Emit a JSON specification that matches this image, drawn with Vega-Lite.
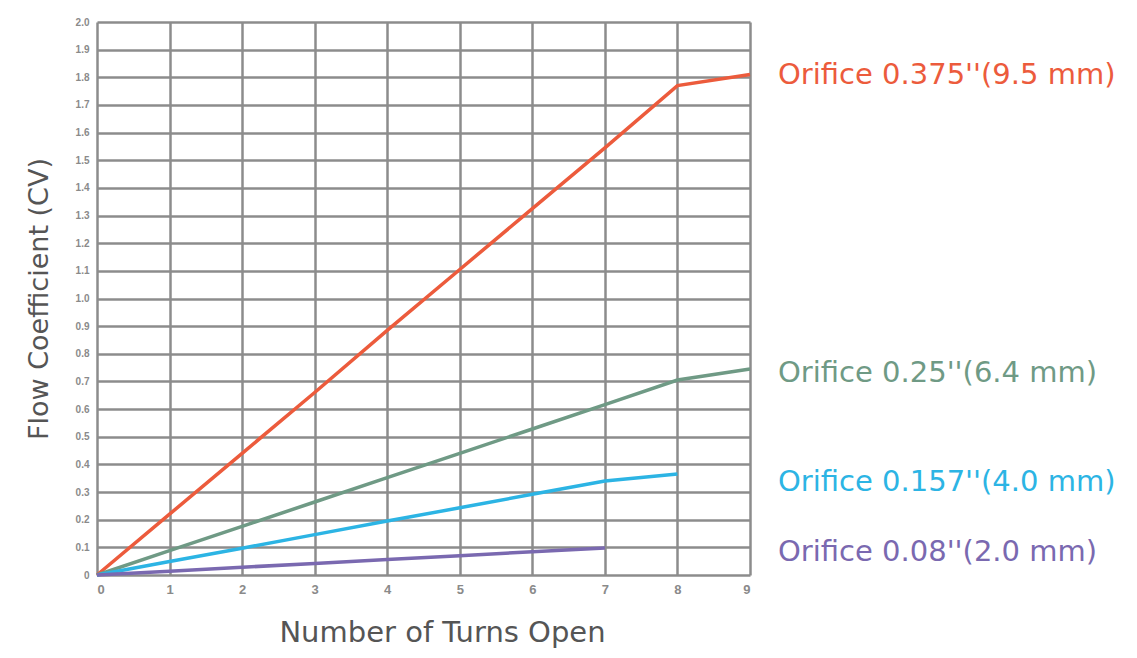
{
  "$schema": "https://vega.github.io/schema/vega-lite/v6.json",
  "autosize": {"type": "none"},
  "width": 653,
  "height": 553,
  "padding": {"left": 97, "top": 22, "right": 387, "bottom": 83},
  "background": "white",
  "config": {
    "view": {"stroke": null},
    "font": "DejaVu Sans"
  },
  "datasets": {
    "lines": [
      {"series": "Orifice 0.375''(9.5 mm)", "turns": 0, "cv": 0},
      {"series": "Orifice 0.375''(9.5 mm)", "turns": 1, "cv": 0.22},
      {"series": "Orifice 0.375''(9.5 mm)", "turns": 2, "cv": 0.44},
      {"series": "Orifice 0.375''(9.5 mm)", "turns": 3, "cv": 0.66},
      {"series": "Orifice 0.375''(9.5 mm)", "turns": 4, "cv": 0.885},
      {"series": "Orifice 0.375''(9.5 mm)", "turns": 5, "cv": 1.105},
      {"series": "Orifice 0.375''(9.5 mm)", "turns": 6, "cv": 1.325},
      {"series": "Orifice 0.375''(9.5 mm)", "turns": 7, "cv": 1.545},
      {"series": "Orifice 0.375''(9.5 mm)", "turns": 8, "cv": 1.77},
      {"series": "Orifice 0.375''(9.5 mm)", "turns": 9, "cv": 1.81},
      {"series": "Orifice 0.25''(6.4 mm)", "turns": 0, "cv": 0},
      {"series": "Orifice 0.25''(6.4 mm)", "turns": 1, "cv": 0.088},
      {"series": "Orifice 0.25''(6.4 mm)", "turns": 2, "cv": 0.176},
      {"series": "Orifice 0.25''(6.4 mm)", "turns": 3, "cv": 0.264},
      {"series": "Orifice 0.25''(6.4 mm)", "turns": 4, "cv": 0.352},
      {"series": "Orifice 0.25''(6.4 mm)", "turns": 5, "cv": 0.44},
      {"series": "Orifice 0.25''(6.4 mm)", "turns": 6, "cv": 0.528},
      {"series": "Orifice 0.25''(6.4 mm)", "turns": 7, "cv": 0.616},
      {"series": "Orifice 0.25''(6.4 mm)", "turns": 8, "cv": 0.705},
      {"series": "Orifice 0.25''(6.4 mm)", "turns": 9, "cv": 0.745},
      {"series": "Orifice 0.157''(4.0 mm)", "turns": 0, "cv": 0},
      {"series": "Orifice 0.157''(4.0 mm)", "turns": 1, "cv": 0.049},
      {"series": "Orifice 0.157''(4.0 mm)", "turns": 2, "cv": 0.097},
      {"series": "Orifice 0.157''(4.0 mm)", "turns": 3, "cv": 0.146},
      {"series": "Orifice 0.157''(4.0 mm)", "turns": 4, "cv": 0.195},
      {"series": "Orifice 0.157''(4.0 mm)", "turns": 5, "cv": 0.243},
      {"series": "Orifice 0.157''(4.0 mm)", "turns": 6, "cv": 0.292},
      {"series": "Orifice 0.157''(4.0 mm)", "turns": 7, "cv": 0.34},
      {"series": "Orifice 0.157''(4.0 mm)", "turns": 8, "cv": 0.365},
      {"series": "Orifice 0.08''(2.0 mm)", "turns": 0, "cv": 0},
      {"series": "Orifice 0.08''(2.0 mm)", "turns": 1, "cv": 0.014},
      {"series": "Orifice 0.08''(2.0 mm)", "turns": 2, "cv": 0.028},
      {"series": "Orifice 0.08''(2.0 mm)", "turns": 3, "cv": 0.042},
      {"series": "Orifice 0.08''(2.0 mm)", "turns": 4, "cv": 0.056},
      {"series": "Orifice 0.08''(2.0 mm)", "turns": 5, "cv": 0.07},
      {"series": "Orifice 0.08''(2.0 mm)", "turns": 6, "cv": 0.084},
      {"series": "Orifice 0.08''(2.0 mm)", "turns": 7, "cv": 0.098}
    ],
    "labels": [
      {"series": "Orifice 0.375''(9.5 mm)", "turns": 9, "cv": 1.81},
      {"series": "Orifice 0.25''(6.4 mm)", "turns": 9, "cv": 0.73},
      {"series": "Orifice 0.157''(4.0 mm)", "turns": 9, "cv": 0.335},
      {"series": "Orifice 0.08''(2.0 mm)", "turns": 9, "cv": 0.083}
    ]
  },
  "encoding": {
    "x": {
      "field": "turns", "type": "quantitative",
      "scale": {"domain": [0, 9], "nice": false, "zero": true},
      "axis": {
        "title": "Number of Turns Open",
        "titleFont": "DejaVu Sans", "titleFontSize": 29, "titleFontWeight": "normal",
        "titleColor": "#555555", "titlePadding": 22, "titleX": 345, "titleAlign": "center",
        "values": [0, 1, 2, 3, 4, 5, 6, 7, 8, 9], "format": "d",
        "labelFont": "Liberation Sans", "labelFontWeight": "bold",
        "labelFontSize": 13, "labelColor": "#8a8a8a", "labelPadding": 8,
        "labelOverlap": false,
        "ticks": false, "domain": false,
        "grid": true, "gridColor": "#8c8c8c", "gridWidth": 2.5, "gridOpacity": 1
      }
    },
    "y": {
      "field": "cv", "type": "quantitative",
      "scale": {"domain": [0, 2], "nice": false},
      "axis": {
        "title": "Flow Coefficient (CV)",
        "titleFont": "DejaVu Sans", "titleFontSize": 27, "titleFontWeight": "normal",
        "titleColor": "#555555", "titlePadding": 22,
        "values": [0, 0.1, 0.2, 0.3, 0.4, 0.5, 0.6, 0.7, 0.8, 0.9, 1.0, 1.1, 1.2, 1.3, 1.4, 1.5, 1.6, 1.7, 1.8, 1.9, 2.0],
        "labelExpr": "datum.value == 0 ? '0' : format(datum.value, '.1f')",
        "labelFont": "Liberation Sans", "labelFontWeight": "bold",
        "labelFontSize": 10, "labelColor": "#8a8a8a", "labelPadding": 8,
        "labelOverlap": false,
        "ticks": false, "domain": false,
        "grid": true, "gridColor": "#8c8c8c", "gridWidth": 2.5, "gridOpacity": 1
      }
    },
    "color": {
      "field": "series", "type": "nominal",
      "scale": {
        "domain": ["Orifice 0.375''(9.5 mm)", "Orifice 0.25''(6.4 mm)", "Orifice 0.157''(4.0 mm)", "Orifice 0.08''(2.0 mm)"],
        "range": ["#ec5b3c", "#6f9a85", "#2cb4e4", "#7a69b0"]
      },
      "legend": null
    }
  },
  "layer": [
    {
      "data": {"name": "lines"},
      "mark": {"type": "line", "strokeWidth": 3.5},
      "encoding": {
        "detail": {"field": "series"}
      }
    },
    {
      "data": {"name": "labels"},
      "mark": {"type": "text", "align": "left", "baseline": "middle", "dx": 28, "fontSize": 29, "font": "DejaVu Sans"},
      "encoding": {
        "text": {"field": "series"}
      }
    }
  ]
}
